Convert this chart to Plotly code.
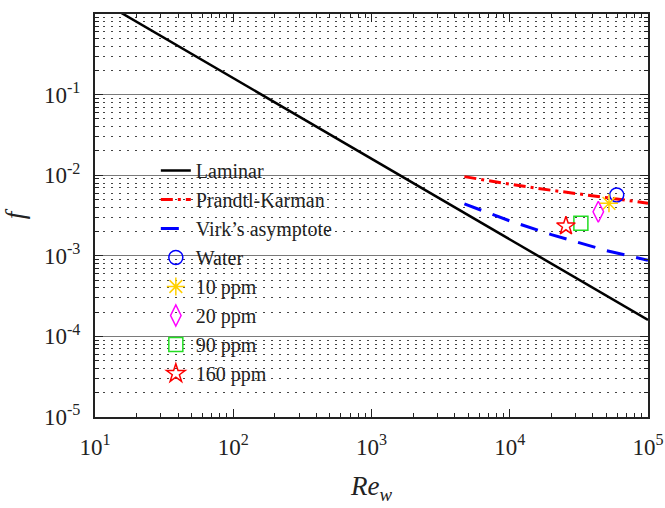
import plotly.graph_objects as go

# ---- data ----
re_laminar = [10, 100000]
f_laminar = [1.6, 0.00016]

re_pk = [4700, 10000, 20000, 50000, 100000]
f_pk = [0.0096, 0.00773, 0.0065, 0.00521, 0.0045]

re_virk = [4700, 10000, 20000, 50000, 100000]
f_virk = [0.0044, 0.00271, 0.00183, 0.00116, 0.00088]

point_names = ["Water", "10 ppm", "20 ppm", "90 ppm", "160 ppm"]
point_re = [59400, 52200, 43700, 32700, 25500]
point_f = [0.00568, 0.00448, 0.00352, 0.00253, 0.00234]
point_symbols = ["circle-open", "asterisk-open", "diamond-tall-open", "square-open", "star-open"]
point_colors = ["#0000FF", "#FFD000", "#FF00FF", "#22DD22", "#FF0000"]
point_sizes = [14, 15, 15, 14, 14]

x_tickvals = [10, 100, 1000, 10000, 100000]
x_ticktext = ["10<sup>1</sup>", "10<sup>2</sup>", "10<sup>3</sup>", "10<sup>4</sup>", "10<sup>5</sup>"]
y_tickvals = [1e-5, 1e-4, 1e-3, 1e-2, 1e-1, 1]
y_ticktext = ["10<sup>-5</sup>", "10<sup>-4</sup>", "10<sup>-3</sup>", "10<sup>-2</sup>", "10<sup>-1</sup>", "10<sup>0</sup>"]

FONT = "Liberation Serif"
TXT = "#222222"

fig = go.Figure()
fig.add_trace(go.Scatter(x=re_laminar, y=f_laminar, mode="lines", name="Laminar",
                         line=dict(color="black", width=2.5)))
fig.add_trace(go.Scatter(x=re_pk, y=f_pk, mode="lines", name="Prandtl-Karman",
                         line=dict(color="#FF0000", width=3, dash="12px,5px,3px,5px")))
fig.add_trace(go.Scatter(x=re_virk, y=f_virk, mode="lines", name="Virk\u2019s asymptote",
                         line=dict(color="#0000FF", width=3, dash="18px,12px")))
for n, xv, yv, s, c, sz in zip(point_names, point_re, point_f, point_symbols, point_colors, point_sizes):
    fig.add_trace(go.Scatter(x=[xv], y=[yv], mode="markers", name=n,
                             marker=dict(symbol=s, color=c, size=sz, line=dict(color=c, width=1.5))))

axis_common = dict(
    type="log", showline=True, linecolor=TXT, linewidth=2, mirror="ticks",
    ticks="inside", ticklen=8, tickwidth=1, tickcolor=TXT, automargin=False,
    tickfont=dict(family=FONT, size=23, color=TXT), zeroline=False,
)

fig.update_xaxes(range=[1, 5], tickvals=x_tickvals, ticktext=x_ticktext, showgrid=False,
                 minor=dict(ticks="inside", ticklen=4, tickcolor=TXT, dtick="D1", showgrid=False),
                 title=dict(text="<i>Re</i><sub><i>w</i></sub>", font=dict(family=FONT, size=27, color=TXT), standoff=18),
                 ticklabelstandoff=8,
                 **axis_common)
fig.update_yaxes(range=[-5, 0], tickvals=y_tickvals, ticktext=y_ticktext, showgrid=True,
                 gridcolor="#7a7a7a", gridwidth=1,
                 minor=dict(ticks="inside", ticklen=4, tickcolor=TXT, dtick="D1", showgrid=True,
                            gridcolor="#444444", gridwidth=1, griddash="2px,6px"),
                 title=dict(text="<i>f</i>", font=dict(family=FONT, size=27, color=TXT), standoff=14),
                 ticklabelstandoff=8,
                 **axis_common)

fig.update_layout(
    width=665, height=508,
    margin=dict(l=95, r=17, t=14, b=91, autoexpand=False),
    plot_bgcolor="white", paper_bgcolor="white",
    font=dict(family=FONT, size=20, color=TXT),
    showlegend=True,
    legend=dict(x=0.11, y=0.66, xanchor="left", yanchor="top", bgcolor="rgba(0,0,0,0)",
                borderwidth=0, font=dict(family=FONT, size=20, color=TXT), tracegroupgap=0),
)

fig.write_html("out.html")
